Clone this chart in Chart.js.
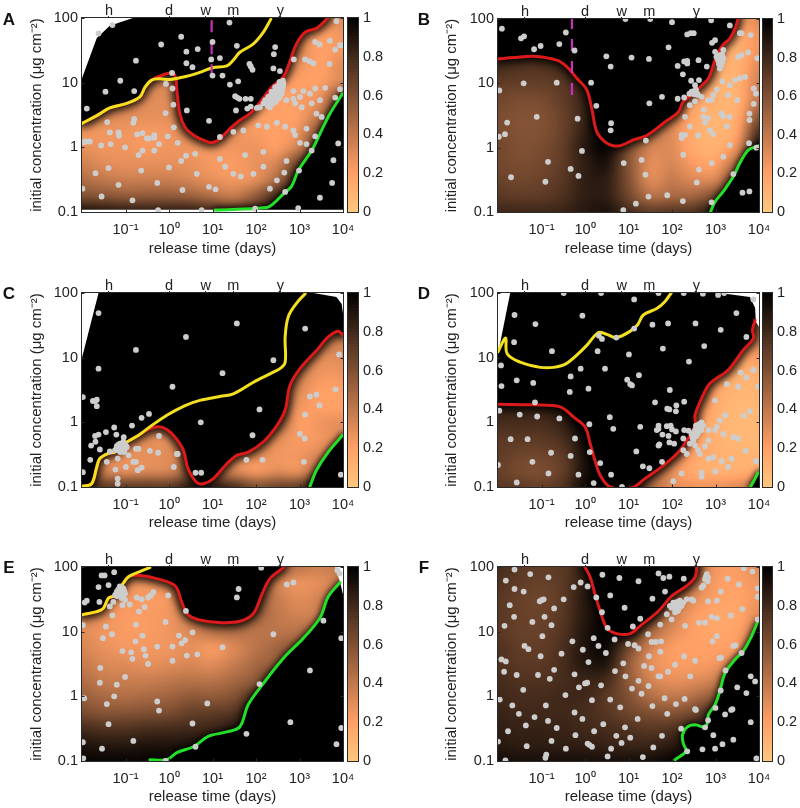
<!DOCTYPE html>
<html><head><meta charset="utf-8">
<style>
html,body{margin:0;padding:0;background:#fff;width:800px;height:808px;overflow:hidden}
canvas{position:absolute}
</style>
<script src="https://cdn.jsdelivr.net/npm/chart.js@4"></script>
</head><body>
<script>
// All curve / point values below are log10(release time, days), log10(initial concentration, ug cm-2)
const timeTicks=[0.1,1,10,100,1000,10000];
const timeTickLabels=['10⁻¹','10⁰','10¹','10²','10³','10⁴'];
const concTicks=[0.1,1,10,100];
const concTickLabels=['0.1','1','10','100'];
const topTicks=[1/24,1,7,30,365];
const topTickLabels=['h','d','w','m','y'];
const barTicks=[0,0.2,0.4,0.6,0.8,1];
const barLevels=Array.from({length:64},(_,i)=>(i+0.5)/64);

const pointsA=[[-1.62,1.76],[-1.3,1.89],[.28,1.71],[1.39,1.93],[-.18,1.59],[.4,1.48],[.66,1.52],[1,1.63],[1.56,1.57],[2.44,1.55],[2.41,1.44],[.4,1.3],[.54,1.24],[.97,1.36],[1.17,1.38],[1.85,1.29],[1.88,1.25],[1.92,1.2],[2.4,1.22],[2.55,1.18],[-.76,1.34],[.07,1.15],[1,1.11],[1.23,1.11],[-1.12,1.03],[-1.46,.86],[-.8,.87],[-.07,.98],[.08,.91],[1.4,.97],[1.59,1.02],[-1.89,.6],[-.8,.44],[-.82,.38],[-.08,.53],[.1,.66],[.41,.57],[.92,.41],[1.52,.79],[1.57,.77],[1.62,.75],[1.76,.75],[1.88,.75],[1.54,.57],[1.8,.6],[1.88,.63],[3.93,.9],[3.82,.77],[3.36,1.63],[3.46,1.59],[3.7,1.65],[3.82,1.51],[3.93,1.58],[4,1.58],[3.85,1.95],[3.13,1.36],[3.23,1.33],[3.32,1.3],[3.69,1.29],[2.87,1.36],
[-1.42,.39],[-1.36,.23],[-1.16,.23],[-1.15,.18],[-.73,.2],[-.61,.22],[-.51,.14],[-.46,.14],[-.34,.19],[-.34,.15],[-.03,.17],[-1.96,.08],[-1.91,.09],[-1.82,.09],[-1.56,.03],[-1.34,.05],[-1.01,0],[-.7,-.12],[-.61,-.05],[-.34,-.05],[-.23,.05],[.11,.31],[.2,.07],[.39,-.13],[.6,-.1],[.28,-.21],[0,-.31],[-1.69,-.4],[-1.39,-.32],[-.64,-.36],[-.27,-.55],[-1.16,-.58],[-1.99,-.64],[-1.55,-.76],[-.84,-.82],[-.25,-.97],[.31,-.66],[.75,-.97],[.92,-.61],[1.07,-.65],[.64,-.41],[1.17,-.18],[1.29,-.3],[1.48,-.41],[1.94,-.41],[1.65,-.45],[2.32,-.64],[2.48,-.51],[2.65,-.39],[2.7,-.21],[2.67,-.69],[2.97,-.94],[2.99,-.36],[2.17,-.3],[1.17,.16],[1.48,.24],[1.71,.26],[2.05,.34],[2.25,.32],[2.48,.38],[2.67,.32],[2.86,.26],[2.9,.19],[3.16,.29],[3.36,.17],[3.01,.07],[3.16,.05],[3.28,-.05],[3.51,.47],[3.39,.52],[3.89,.06],[3.78,-.2],[3.75,-.55],[3.47,-.78],[1.98,-.95],[1.75,-.12],[2.17,-.07],
[2.21,.73],[2.28,.68],[2.36,.75],[2.44,.8],[2.51,.86],[2.59,.93],[2.63,.98],[2.54,1.01],[2.44,.93],[2.36,.86],[2.28,.78],[2.17,.68],[2.09,.62],[2.02,.61],[2.51,.75],[2.4,.7],[2.32,.62],[2.59,.83],[2.48,.88],[2.55,.9],[2.6,1],[2.48,.78],[2.36,.66],
[2.86,.87],[3.01,.78],[3.09,.87],[3.36,.91],[3.59,.92],[3.24,.83],[2.86,.75],[2.7,.73],[2.9,.68],[3.05,.62],[3.28,.68],[3.47,.73],
[2.25,.72],[2.3,.75],[2.33,.7],[2.38,.8],[2.42,.74],[2.46,.83],[2.5,.8],[2.53,.92],[2.56,.85],[2.6,.88],[2.62,.93],[2.57,.97],[2.5,.95],[2.42,.87],[2.33,.8],[2.27,.64],[2.45,.7],[2.4,.78],[2.55,.78],[2.62,1.03]];
const pointsB=[[-1.91,1.85],[-1.47,1.7],[-1.4,1.73],[-1.17,1.53],[-1.02,1.58],[-.59,1.61],[-.44,1.79],[-.24,1.51],[.49,1.42],[.59,1.26],[1.07,1.4],[1.47,1.38],[.93,2],[1.5,2],[2,1.95],[2.9,1.98],[3.33,1.9],[1.92,1.56],[2.35,1.76],[2.43,1.78],[2.5,1.78],[2.92,1.63],[2.99,1.67],[2.13,1.27],[2.28,1.34],[2.35,1.35],[2.35,1.31],[2.61,1.36],[2.8,1.26],[2.25,1.14],[2.44,1.04],[2.62,1.05],[-1.41,1],[-.65,1.01],[-1.97,.89],[.14,1.01],[.26,.65],[-.17,.45],[-1.11,.48],[-1.79,.39],[-1.98,.17],[-1.84,.21],[.6,.38],[.59,.27],[1.48,.69],[1.77,.79],[2.13,.76],[2.28,.78],[-.07,-.05],[-.85,-.22],[-1.7,-.46],[-.91,-.53],[-.33,-.33],[-.15,-.44],[.89,-.24],[1.4,.11],[1.3,-.19],[1.39,-.42],[1.46,-.76],[1.17,-.87],[.88,-.97],[1.89,-.74],[2.25,-.83],[2.26,-.11],[2.91,-.85],[2.91,-.24],[2.62,-.34],[2.57,-.54],[3.41,-.41],[3.62,-.7],[3.78,-.68],[3.77,.07],[3.94,0],[3.33,.04],[3.18,-.14],[3.78,.53],[3.78,.43],[3.88,.92],[3.93,.84],[3.88,.68],[3.56,1.78],[3.6,1.78],[3.81,1.75],[3.75,1.48],[3.96,1.39],[3.52,1.41],[3.6,1.44],
[2.99,1.49],[3.1,1.44],[3.18,1.52],[3.06,1.36],[3.14,1.31],[3.1,1.23],[3.18,1.39],[3.02,1.41],[2.53,.97],[2.55,.9],[2.47,.84],[2.4,.84],[2.6,.82],[2.68,.79],
[2.3,.48],[2.41,.66],[2.53,.72],[2.73,.59],[2.72,.48],[2.83,.74],[2.95,.82],[2.91,.74],[3.03,.9],[3.16,1.03],[3.45,1.05],[3.56,1.08],[3.68,1.1],[3.33,.97],[3.29,.82],[3.5,.74],[3.14,.53],[3.18,.49],[3.33,.48],[3.26,.33],[2.83,.46],[2.76,.39],[2.41,.33],[2.22,.2],[2.3,.2],[2.22,.15],[2.6,.19],[2.87,.27],[2.95,.21],
[3.05,1.42],[3.12,1.4],[3.15,1.45],[3.08,1.3],[3.13,1.27],[3.12,1.35],[3.16,1.34],[2.5,.88],[2.45,.87],[2.52,.83],[2.57,.85]];
const pointsC=[[-1.62,1.69],[-.76,1.12],[-1.62,.83],[.39,1.32],[1.56,1.53],[3.13,1.45],[2.4,.96],[1.23,.76],[3.91,1.05],[.08,.55],[-1.98,.39],[-1.75,.33],[-1.7,.33],[-1.66,.35],[-1.66,.25],[-.63,.07],[-.46,.13],[-.85,-.05],[-1.26,-.08],[-1.45,-.15],[-1.62,-.19],[-1.7,-.21],[-1.21,-.19],[-1.04,-.23],[-1.79,-.36],[-1.69,-.3],[-1.59,-.42],[-1.36,-.45],[-1.81,-.58],[-1.43,-.61],[-1.98,-.77],[.73,0],[2.08,.2],[1.92,-.2],[-.23,-.21],[3.83,.51],[3.24,.4],[3.39,.43],[3.46,.26],[3.13,.12],[3.01,-.18],[3.12,-.25],[3.1,-.61],[3.95,-.81],[1.78,-.58],[2.15,-.58],[.18,-.49],[.2,-.49],[.11,-.69],[.61,-.78],[.74,-.78],[-.44,-.44],[-.25,-.47],[-.76,-.41],[-.7,-.41],[-.82,-.61],[-.76,-.61],[-.99,-.69],[-1.23,-.73],[-.72,-.74],[-.63,-.7],[-1.18,-.87],[-1.18,-.95],[-1.18,-.56],[-.93,-.51],
[-1.09,-.38],[-1.16,-.41],[-1.01,-.41],[-1.13,-.33],[-1.05,-.3],[-1.2,-.37],[-1.11,-.44],[-.97,-.38],[-1.03,-.46],[-1.24,-.43],
[-1.1,-.4],[-1.05,-.36],[-1.15,-.37],[-1.08,-.33],[-1.12,-.46],[-1,-.35],[-1.2,-.41],[-1.06,-.42],[-1.14,-.44],[-1.17,-.35]];
const pointsD=[[-1.62,1.66],[-1.14,1.52],[-.06,1.65],[1.13,1.9],[1.55,1.51],[1.91,1.53],[2.54,1.53],[3.48,1.69],[3.87,1.9],[-.49,2],[.37,2],[1.69,2],[2.27,2],[2.71,1.99],[3.06,1.97],[3.2,2],[3.12,1.43],[3.71,1.32],[2.74,1.18],[1.79,1.14],[2.39,.94],[-1.63,1.24],[-.76,1.1],[-1.93,.88],[-1.57,.65],[-1.92,.56],[-1.19,.61],[-.33,.71],[-.1,.83],[-.35,.47],[.08,.52],[.29,1.1],[.32,1.34],[.39,1.29],[.72,1.31],[1.13,1.45],[1.01,1.05],[.46,.83],[.97,.66],[1.04,.59],[1.08,.57],[1.24,.73],[1.95,.5],[1.61,.31],[1.89,.21],[1.94,.2],[2.1,.26],[2.09,.17],[2.28,.32],[-1.97,.18],[-1.15,.31],[-1.5,.12],[-1.1,.09],[-.59,.06],[.57,.08],[.65,-.1],[.1,-.03],[1.27,-.07],[-1.71,-.26],[-1.32,-.26],[-.23,-.25],[-.78,-.47],[-.33,-.52],[.11,-.46],[-1.21,-.61],[-2,-.66],[-.84,-.79],[-.15,-.81],[.35,-.63],[-1.57,-.93],[.2,-.94],[.6,-.81],[.85,-1],[1.18,-.45],[1.33,-.68],[1.48,-.71],[1.77,-.61],
[1.69,-.05],[1.65,-.12],[1.69,-.1],[1.88,-.06],[1.97,-.05],[2,-.11],[2.09,-.14],[2.28,-.12],[2.38,-.13],[1.78,-.19],[1.92,-.21],[1.94,-.31],[2.05,-.33],[1.69,-.36],[1.71,-.34],
[2.68,0],[2.72,-.05],[2.6,-.07],[2.53,-.12],[2.64,-.12],[2.45,-.18],[2.57,-.2],[2.68,-.12],[2.49,-.28],[2.41,-.33],[2.53,-.36],[2.26,-.43],[2.34,-.49],[2.6,-.43],
[2.84,-.12],[2.99,-.12],[2.84,-.28],[3.1,.03],[3.22,.11],[3.03,-.07],[3.18,-.18],[3.41,-.23],[3.52,-.25],[3.65,.1],[3.79,.17],[3.98,.55],[3.52,.55],[3.26,.59],[3.58,.77],[3.87,.81],[3.71,.69],[2.99,.34],[2.64,-.49],[2.84,-.56],[2.95,-.54],[3.14,-.6],[3.37,-.56],[3.29,-.69],[3,-.76],[2.68,-.78],[2.68,-.84],[2.22,-.79],[2.03,-.91],[3.69,-.44],[3.93,-.6],[2.76,-.37],[2.26,-.25],
[2.55,-.05],[2.62,-.03],[2.66,-.08],[2.58,-.1],[2.5,-.16],[2.6,-.16],[2.54,-.22],[2.47,-.24]];
const pointsE=[[-1.26,1.92],[-1.55,1.87],[-1.48,1.87],[-1.62,1.69],[-1.39,1.72],[-1.6,1.46],[-1.94,1.45],[-1.89,1.48],[2.12,1.99],[1.6,1.66],[1.56,1.53],[2.71,1.73],[2.86,1.76],[.39,1.32],[-.02,1.56],[-1.36,1.39],[-1.3,1.25],[-1.45,1.08],[-1.31,.96],[-1.52,.9],[-1.98,1.1],[-.76,1.11],[-.69,1.31],[-.56,1.38],[-.74,1.53],[-.63,1.5],[-.48,1.53],[-.42,1.56],[-.36,1.61],[-1.07,1.41],[-.9,1.42],[-.61,.94],[-.77,.85],[-.08,1.15],[.23,.94],[.54,.99],[.37,.87],[.29,.82],[-.27,.77],[.08,.77],[-.58,.73],[-1.07,.7],[-.87,.68],[-.54,.63],[-.84,.58],[.08,.55],[-.48,.5],[.41,.63],[.65,.65],[1.23,.76],[2.4,.96],[-1.58,.44],[-1.59,.21],[-1.01,.3],[-1.2,.18],[-1.26,0],[-1.95,-.03],[-1.43,-.12],[-.27,-.08],[-.23,-.22],[.88,-.11],[2.08,.19],[3.24,.4],[3.55,1.17],[-1.39,-.43],[.54,-.42],[2.79,-.4],[1.78,-.58],[-.82,-.69],[.61,-.78],[-1.54,-.81],[-1.98,-.71],[-1.97,-.96],[-.08,-1],[3.96,-.49],[3.85,-.74],[3.96,.9],
[-1.13,1.64],[-1.2,1.62],[-1.05,1.67],[-1.01,1.59],[-1.16,1.57],[-1.24,1.57],[-1.09,1.52],[-1.01,1.49],[-1.28,1.46],[3.87,1.95],[3.92,1.9],
[-1.12,1.6],[-1.17,1.65],[-1.08,1.62],[-1.1,1.55],[-1.15,1.6],[-1.03,1.63],[-1.2,1.55],[-1.08,1.68],[-1.05,1.55],[-1.13,1.7]];
const pointsF=[[-1.62,1.96],[-1.26,1.89],[-.84,1.84],[-1.82,1.79],[-1.62,1.66],[-1.41,1.62],[-1.73,1.41],[-1.63,1.23],[-1.85,1.09],[-1.21,1.15],[-.93,1.23],[-1.04,1.47],[-.99,1.49],[-.95,1.5],[-.71,1.36],[-.49,1.5],[-.77,1.1],[-.98,.93],[-1.39,.78],[-1.3,.73],[-1.02,.62],[-.54,.66],[-.29,.85],[-.05,.72],[-1.92,.57],[-1.82,.54],[-1.86,.38],[-1.57,.33],[-1.08,.33],[-.71,.41],[-.81,.27],[-.24,.34],[.08,.53],[0,.2],[.05,.21],[-.14,.14],[.37,.17],[.69,.39],[.88,.51],[.93,.31],[-1.96,-.05],[-1.42,.1],[-.45,.02],[.16,-.06],[.58,-.05],[.81,-.17],[-1.67,-.14],[-1.52,-.27],[-.9,-.14],[-1.16,-.32],[-1.36,-.45],[-.85,-.38],[-.24,-.25],[-.06,-.35],[-.65,-.49],[.42,-.43],[.21,-.54],[-.22,-.6],[.92,-.48],[.72,-.61],[.84,-.72],[1.04,-.64],[-1.77,-.54],[-.77,-.69],[-1.34,-.77],[-.44,-.81],[.06,-.73],[.1,-.75],[.16,-.78],[.6,-.81],[.52,-.93],[1.33,-.94],[1.57,-.79],[1.77,-.61],[1.21,-.35],[-.89,-.9],[-.91,-.95],[-2,-.7],[-1.83,-.99],[3.94,-.96],
[-.26,1.69],[-.1,1.76],[.06,1.7],[.4,1.88],[.79,1.83],[1.23,1.78],[1.69,1.9],[1.8,1.83],[1.94,1.85],[2.27,1.82],[.26,1.53],[.58,1.56],[.91,1.37],[.39,1.3],[1.55,1.51],[1.84,1.62],[1.27,1.2],[1.1,1.08],[.52,1.06],[.2,.9],[.31,.78],[.48,.67],[.68,.88],[.99,.81],[1.14,.79],[1.23,.74],[1.45,.96],[1.53,.84],[1.63,.84],[1.75,.85],[1.47,.62],[1.73,.69],[1.36,.47],[1.53,.44],[2.07,.49],[2.28,.62],[2.53,.55],[1.91,.38],[1.69,.31],[1.73,.31],[2.42,.31],[1.23,.24],[1.08,.12],[1.3,.04],[1.46,.16],[1.55,-.15],[1.83,-.03],[2.09,-.12],[2.29,-.04],[1.89,-.27],[2.21,-.5],[2.53,-.2],[2.55,-.21],[2.35,-.85],[2.7,-.82],[3,-.18],[2.83,-.37],[2.76,-.48],[2.95,-.6],[3.16,-.74],[2.99,-.81],[3.41,-.67],[3.22,-.28],[3.36,-.21],[3.39,-.2],[3.81,-.4],[3.71,.05],[3.5,.14],[3.81,.31],[3.91,.23],[3.12,.09],[3.23,.4],[3.09,.59],[3.13,.6],[3.6,.67],[3.41,.78],[3.46,.79],[3.03,.93],[2.93,.85],[3.35,1.25],[3.03,1.21],[2.91,1.23],[2.76,1.14],[2.62,1.14],[3.62,1.35],[3.54,1.73],[3.65,1.98],[3.85,1.93],[3.97,1.67],[3.97,1.54],[3.97,1.19],[3.28,1.82],[3.12,1.62],[3.03,1.48],[2.83,1.47],[2.45,1.5],
[2.8,1.89],[2.83,1.84],[2.76,1.81],[2.68,1.68],[2.72,1.71],[2.11,1.42],[2.03,1.45],[2.18,1.48],[2.22,1.4],[2.07,1.37],[2.15,1.35],[2.26,1.45],[1.99,1.37],[1.95,1.4],[2.07,1.3],[1.88,1.27],[1.99,1.19],[1.73,1.11],[2.34,1.5],[2.3,1.09],[2.49,1.48],
[2.1,1.4],[2.15,1.42],[2.05,1.42],[2.12,1.46],[2.17,1.38],[2.08,1.35],[2.2,1.44],[2.02,1.4],[2.13,1.32],[2.78,1.85],[2.82,1.78]];

const yellowA=[[-2,.37],[-1.66,.49],[-1.36,.61],[-.97,.68],[-.67,.78],[-.55,.93],[-.4,1.04],[-.21,1.06],[.02,1.05],[.41,1.1],[.71,1.16],[1,1.23],[1.33,1.26],[1.48,1.35],[1.63,1.47],[1.94,1.6],[2.17,1.78],[2.34,1.98]];
const redA=[[-2,.37],[-1.66,.49],[-1.36,.61],[-.97,.68],[-.67,.78],[-.55,.93],[-.4,1.04],[-.21,1.1],[.02,1.15],[.14,1.11],[.18,.88],[.25,.52],[.37,.31],[.56,.19],[.79,.11],[.98,.07],[1.17,.13],[1.4,.29],[1.63,.42],[1.86,.52],[2.13,.73],[2.36,.93],[2.63,1.09],[2.79,1.35],[2.93,1.6],[3.13,1.78],[3.39,1.84],[3.59,1.96],[3.66,2.02]];
const greenA=[[1.06,-.97],[2.25,-.93],[2.4,-.87],[2.63,-.72],[2.82,-.6],[2.97,-.36],[3.28,-.05],[3.47,.21],[3.7,.52],[3.99,.83]];
const dashA=[[.98,1.1],[.98,2]];
const redB=[[-2,1.38],[-1.64,1.4],[-1.18,1.42],[-.65,1.36],[-.42,1.26],[-.19,1.08],[.04,.9],[.16,.59],[.27,.25],[.46,.09],[.65,.03],[.85,.04],[1.11,.12],[1.42,.19],[1.8,.38],[2.15,.56],[2.26,.72],[2.49,.84],[2.64,.94],[2.84,1.08],[2.99,1.36],[3.14,1.57],[3.33,1.7],[3.45,1.85],[3.52,2.01]];
const greenB=[[2.89,-.99],[2.99,-.84],[3.18,-.68],[3.41,-.45],[3.56,-.24],[3.75,-.04],[3.94,.02],[4,.03]];
const dashB=[[-.3,.82],[-.3,2]];
const yellowC=[[-2,-.99],[-1.78,-.95],[-1.66,-.69],[-1.59,-.56],[-1.39,-.48],[-1.24,-.46],[-1.09,-.36],[-.93,-.29],[-.7,-.2],[-.44,-.07],[-.05,.11],[.37,.26],[.71,.34],[1.17,.4],[1.48,.44],[1.94,.62],[2.32,.75],[2.55,.83],[2.67,.93],[2.67,1.32],[2.74,1.63],[2.93,1.84],[3.13,1.99]];
const redC=[[-2,-.99],[-1.78,-.95],[-1.66,-.69],[-1.59,-.56],[-1.39,-.48],[-1.24,-.46],[-1.09,-.36],[-.93,-.29],[-.7,-.2],[-.51,-.12],[-.25,-.07],[-.05,-.11],[.14,-.23],[.33,-.43],[.44,-.72],[.64,-.93],[.79,-.95],[1.02,-.87],[1.33,-.64],[1.56,-.51],[1.82,-.46],[2.17,-.3],[2.48,-.05],[2.67,.19],[2.78,.57],[3.01,.83],[3.39,1.11],[3.66,1.32],[3.89,1.41],[4,1.35]];
const greenC=[[3.24,-.99],[3.39,-.74],[3.66,-.46],[3.99,-.2]];
const yellowD=[[-2,1.09],[-1.87,1.27],[-1.82,1.3],[-1.79,1.06],[-1.49,.93],[-1.03,.85],[-.72,.85],[-.45,.9],[-.19,1.04],[.04,1.19],[.31,1.39],[.5,1.36],[.72,1.31],[1.04,1.41],[1.21,1.51],[1.34,1.66],[1.65,1.76],[1.84,1.87],[1.98,2]];
const redD=[[-2,.28],[-1.18,.27],[-.57,.24],[-.26,.08],[0,-.07],[.12,-.33],[.23,-.59],[.35,-.82],[.58,-1],[1.08,-1.01],[1.38,-.87],[1.8,-.67],[2.15,-.46],[2.34,-.28],[2.53,-.05],[2.53,.11],[2.68,.37],[2.87,.6],[3.29,.81],[3.64,1.12],[3.87,1.3],[3.85,1.43],[3.91,1.58]];
const greenD=[[3.81,-.99],[3.91,-.87],[3.98,-.78]];
const yellowE=[[-2,1.26],[-1.66,1.31],[-1.51,1.36],[-1.39,1.52],[-1.24,1.56],[-1.05,1.75],[-.93,1.85],[-.67,1.93],[-.44,1.99]];
const redE=[[-2,1.26],[-1.66,1.31],[-1.51,1.36],[-1.39,1.52],[-1.24,1.56],[-1.05,1.75],[-.93,1.85],[-.67,1.87],[-.28,1.82],[.14,1.71],[.29,1.46],[.44,1.26],[.71,1.18],[1.17,1.14],[1.63,1.16],[1.94,1.28],[2.13,1.57],[2.32,1.82],[2.63,1.99]];
const greenE=[[-.44,-.98],[-.05,-.98],[.18,-.87],[.56,-.78],[.9,-.62],[1.33,-.55],[1.63,-.47],[1.82,-.13],[2.17,.2],[2.63,.59],[3.09,.9],[3.47,1.21],[3.66,1.54],[3.93,1.76]];
const redF=[[0,2],[.12,1.84],[.23,1.58],[.35,1.32],[.5,1.06],[.73,.97],[1.04,.97],[1.27,1.09],[1.69,1.32],[1.99,1.55],[2.34,1.71],[2.53,1.84],[2.57,1.99]];
const greenF=[[2.07,-.98],[2.32,-.85],[2.26,-.73],[2.24,-.6],[2.34,-.48],[2.53,-.44],[2.76,-.48],[2.82,-.39],[2.84,-.28],[2.99,-.13],[3.1,.08],[3.22,.36],[3.45,.57],[3.64,.7],[3.83,.93],[3.96,1.14]];

// white "no data" regions of each panel (log10 values)
const masksA=[[[-2,1.07],[-1.66,1.69],[-1.36,1.88],[-.83,2],[-2,2]],[[-2,-1],[4,-1],[4,-.965],[-2,-.965]]];
const masksC=[[[-2,1],[-1.62,2],[-2,2]],[[3.32,2],[3.85,1.94],[3.97,1.83],[4,1.68],[4,2]]];
const masksD=[[[-2,1.06],[-1.72,2],[-2,2]],[[3.1,2],[3.79,1.94],[3.91,1.77],[3.93,1.55],[4,1.48],[4,2]]];
const masksE=[[[3.82,2],[3.93,1.77],[4,1.57],[4,2]]];

// Colour fraction on a grid: rows log10(conc) 2 ... -1 step .25, columns log10(time) -2 ... 4 step .5
const heatA=[
[.5,.5,.5,.5,.5,.5,.5,.5,.5,.5,.3,.3,.3],
[.5,.5,.5,.5,.5,.5,.5,.5,.5,.5,.3,.2,.25],
[.5,.5,.5,.5,.5,.5,.5,.5,.5,.4,.3,.2,.25],
[.5,.5,.5,.5,.5,.5,.5,.5,.4,.3,.25,.2,.3],
[.4,.4,.4,.35,.35,.4,.4,.3,.25,.22,.2,.22,.35],
[.4,.35,.32,.3,.3,.35,.35,.28,.2,.2,.22,.3,.75],
[.35,.32,.3,.28,.28,.3,.3,.25,.2,.2,.22,.45,1],
[.25,.25,.25,.23,.25,.3,.25,.25,.22,.2,.28,.65,1],
[.28,.25,.25,.23,.25,.25,.23,.25,.25,.22,.4,.85,1],
[.35,.3,.28,.28,.28,.27,.23,.22,.27,.35,.7,1,1],
[.45,.4,.37,.37,.37,.33,.28,.25,.3,.5,.9,1,1],
[.6,.58,.55,.55,.55,.52,.45,.4,.55,.8,1,1,1],
[.9,.88,.85,.85,.85,.85,.8,.75,.8,.95,1,1,1]];
const heatB=[
[.8,.8,.8,.8,.85,.9,.9,.9,.9,.6,.3,.2,.3],
[.8,.8,.8,.8,.85,.9,.9,.9,.9,.5,.25,.15,.25],
[.8,.8,.8,.8,.85,.9,.9,.9,.8,.4,.2,.12,.25],
[.78,.75,.75,.78,.85,.9,.9,.8,.6,.3,.15,.12,.3],
[.7,.69,.69,.73,.82,.9,.9,.7,.5,.25,.12,.12,.35],
[.65,.62,.63,.7,.82,.9,.85,.6,.4,.2,.12,.12,.4],
[.62,.59,.6,.68,.82,.92,.75,.5,.35,.16,.1,.15,.55],
[.62,.59,.6,.68,.85,.95,.65,.42,.3,.14,.1,.2,.75],
[.64,.6,.62,.7,.88,.95,.6,.35,.3,.15,.12,.3,.95],
[.64,.62,.64,.71,.85,.9,.58,.3,.32,.22,.2,.5,1],
[.67,.65,.67,.73,.85,.85,.6,.32,.38,.32,.35,.75,1],
[.72,.7,.71,.76,.85,.85,.65,.45,.48,.5,.65,1,1],
[.8,.8,.8,.82,.88,.9,.78,.7,.72,.75,.9,1,1]];
const heatC=[
[.4,.4,.4,.4,.4,.4,.4,.4,.4,.4,.4,.4,.4],
[.4,.4,.4,.4,.4,.4,.4,.4,.4,.4,.4,.4,.4],
[.4,.4,.4,.4,.4,.4,.4,.4,.4,.4,.4,.4,.4],
[.4,.4,.4,.4,.4,.4,.4,.4,.4,.4,.4,.4,.35],
[.4,.4,.4,.4,.4,.4,.4,.4,.4,.4,.4,.3,.3],
[.4,.4,.4,.4,.4,.4,.4,.4,.4,.4,.35,.25,.25],
[.4,.4,.4,.4,.4,.4,.4,.4,.4,.4,.3,.2,.2],
[.4,.4,.4,.4,.4,.4,.4,.4,.4,.4,.25,.2,.2],
[.4,.4,.4,.4,.4,.4,.4,.4,.4,.45,.22,.25,.28],
[.4,.4,.3,.3,.3,.4,.4,.4,.4,.3,.22,.25,.35],
[.4,.3,.28,.28,.3,.4,.4,.3,.3,.25,.25,.35,.6],
[.45,.35,.3,.32,.35,.5,.4,.33,.25,.3,.3,.6,1],
[.75,.7,.7,.7,.7,.85,.85,.75,.6,.65,.7,1,1]];
const heatD=[
[.9,.9,.9,.9,.9,.9,.9,.9,.9,.9,.9,.5,.5],
[.9,.9,.9,.9,.9,.9,.9,.9,.9,.9,.9,.45,.45],
[.9,.9,.9,.9,.9,.9,.9,.9,.9,.9,.9,.4,.4],
[.9,.9,.9,.9,.9,.9,.9,.9,.9,.9,.9,.3,.3],
[.9,.9,.9,.9,.9,.9,.9,.9,.9,.9,.6,.2,.2],
[.9,.9,.9,.9,.9,.9,.9,.9,.9,.9,.3,.12,.12],
[.9,.9,.9,.9,.9,.9,.9,.9,.9,.6,.2,.1,.1],
[.85,.85,.85,.9,.9,.9,.9,.9,.9,.4,.15,.08,.08],
[.78,.78,.78,.85,1,1,1,1,1,.3,.12,.08,.08],
[.72,.72,.72,.78,.95,1,1,1,.8,.25,.12,.08,.08],
[.7,.66,.66,.72,.92,1,1,.9,.5,.2,.12,.1,.1],
[.68,.63,.62,.7,.92,1,1,.6,.3,.15,.12,.12,.15],
[.72,.7,.68,.75,.95,1,1,.5,.3,.25,.25,.3,.4]];
const heatE=[
[.4,.4,.35,.35,.35,.35,.4,.5,.6,.45,.4,.35,.4],
[.4,.35,.28,.25,.3,.4,.6,.7,.55,.35,.27,.3,.4],
[.4,.3,.25,.22,.25,.4,.6,.7,.55,.38,.3,.35,.45],
[.35,.28,.22,.22,.25,.38,.55,.6,.5,.4,.35,.4,.55],
[.3,.25,.22,.22,.25,.32,.42,.45,.42,.42,.45,.6,1],
[.33,.27,.24,.24,.25,.28,.24,.32,.42,.5,.65,1,1],
[.38,.32,.3,.28,.3,.32,.3,.38,.48,.6,.9,1,1],
[.45,.38,.37,.37,.4,.42,.42,.48,.58,.85,1,1,1],
[.52,.47,.45,.47,.5,.55,.55,.6,.8,1,1,1,1],
[.62,.58,.58,.6,.62,.68,.7,.75,1,1,1,1,1],
[.78,.75,.75,.77,.78,.8,.82,.9,1,1,1,1,1],
[.9,.88,.88,.9,.9,.92,.95,1,1,1,1,1,1],
[.97,.97,.97,.97,.97,1,1,1,1,1,1,1,1]];
const heatF=[
[.78,.72,.7,.72,.85,.9,.9,.85,.7,.5,.25,.22,.3],
[.75,.7,.68,.72,.85,.9,.9,.85,.7,.4,.22,.2,.25],
[.72,.68,.66,.72,.88,.92,.9,.85,.55,.3,.2,.18,.25],
[.72,.68,.67,.73,.88,.95,.9,.7,.4,.22,.17,.17,.3],
[.72,.68,.68,.75,.9,.97,.8,.5,.3,.2,.17,.2,.4],
[.75,.7,.7,.77,.9,.95,.65,.35,.22,.2,.2,.25,.6],
[.75,.72,.72,.78,.88,.88,.55,.3,.22,.22,.25,.4,.85],
[.78,.75,.75,.78,.82,.78,.55,.35,.28,.3,.38,.7,1],
[.8,.78,.78,.8,.8,.72,.6,.45,.4,.45,.6,1,1],
[.82,.8,.8,.8,.78,.73,.65,.6,.58,.65,.85,1,1],
[.85,.83,.83,.82,.8,.78,.75,.72,.75,.85,1,1,1],
[.88,.86,.86,.85,.85,.83,.82,.82,.87,.95,1,1,1],
[.93,.92,.92,.92,.92,.92,.92,.93,.97,1,1,1,1]];

const panels=[
 {name:'A',points:pointsA,red:redA,yellow:yellowA,green:greenA,dash:dashA,heat:heatA,masks:masksA,col:0,row:0,top:18,bottom:212},
 {name:'B',points:pointsB,red:redB,yellow:null,green:greenB,dash:dashB,heat:heatB,masks:[],col:1,row:0,top:19,bottom:212},
 {name:'C',points:pointsC,red:redC,yellow:yellowC,green:greenC,dash:null,heat:heatC,masks:masksC,col:0,row:1,top:19,bottom:213},
 {name:'D',points:pointsD,red:redD,yellow:yellowD,green:greenD,dash:null,heat:heatD,masks:masksD,col:1,row:1,top:19,bottom:213},
 {name:'E',points:pointsE,red:redE,yellow:yellowE,green:greenE,dash:null,heat:heatE,masks:masksE,col:0,row:2,top:19,bottom:213},
 {name:'F',points:pointsF,red:redF,yellow:null,green:greenF,dash:null,heat:heatF,masks:[],col:1,row:2,top:19,bottom:213}
];
const columns=[
 {x:0,plotLeft:82,plotRight:343,barLeft:348,barRight:358,titlePad:28,letterX:9},
 {x:400,plotLeft:98,plotRight:359,barLeft:363,barRight:372,titlePad:43,letterX:24}
];
const rowTops=[0,274,548];
const cellH=260, cellW=400;
const ink='#222', frame='#2a2a2a', font='"Liberation Sans",Arial,sans-serif';

function copper(v){ // reversed copper colour map
  const t=1-Math.max(0,Math.min(1,v));
  return [Math.min(1,1.25*t)*255, .7812*t*255, .4975*t*255];
}
const cr=(a,b,c,d,t)=>.5*(2*b+(c-a)*t+(2*a-5*b+4*c-d)*t*t+(3*b-a-3*c+d)*t*t*t);
function sampleGrid(g,lx,ly){
  const fx=(lx+2)/.5, fy=(2-ly)/.25;
  const ix=Math.max(0,Math.min(11,Math.floor(fx))), iy=Math.max(0,Math.min(11,Math.floor(fy)));
  const tx=fx-ix, ty=fy-iy, rows=[];
  for(let j=-1;j<=2;j++){
    const r=g[Math.max(0,Math.min(12,iy+j))], at=k=>r[Math.max(0,Math.min(12,k))];
    rows.push(cr(at(ix-1),at(ix),at(ix+1),at(ix+2),tx));
  }
  return cr(rows[0],rows[1],rows[2],rows[3],ty);
}
const toXY=a=>a.map(([x,y])=>({x:10**x,y:10**y}));

const fieldPlugin={
  id:'field',
  beforeDatasetsDraw(chart){
    const p=chart.options.plugins.field, {ctx,chartArea:a}=chart, xs=chart.scales.x, ys=chart.scales.y;
    const w=Math.round(a.right-a.left), h=Math.round(a.bottom-a.top);
    const off=document.createElement('canvas'); off.width=w; off.height=h;
    const oc=off.getContext('2d'), img=oc.createImageData(w,h);
    for(let j=0;j<h;j++){
      const ly=Math.log10(ys.getValueForPixel(a.top+j+.5));
      for(let i=0;i<w;i++){
        const lx=Math.log10(xs.getValueForPixel(a.left+i+.5));
        const c=copper(sampleGrid(p.heat,lx,ly)), k=(j*w+i)*4;
        img.data[k]=c[0];img.data[k+1]=c[1];img.data[k+2]=c[2];img.data[k+3]=255;
      }
    }
    oc.putImageData(img,0,0);
    ctx.save();
    ctx.beginPath();ctx.rect(a.left,a.top,a.right-a.left,a.bottom-a.top);ctx.clip();
    ctx.drawImage(off,a.left,a.top);
    const metaOf=l=>chart.data.datasets.findIndex(d=>d.label===l);
    const region=(label,upper)=>{
      const i=metaOf(label); if(i<0) return null;
      const line=chart.getDatasetMeta(i).dataset, pts=chart.getDatasetMeta(i).data;
      const f=pts[0], l=pts[pts.length-1];
      return c=>{
        c.beginPath(); line.path(c);
        if(upper){c.lineTo(l.x,a.top-20);c.lineTo(f.x,a.top-20);}
        else{c.lineTo(a.right+20,l.y);c.lineTo(a.right+20,a.bottom+20);c.lineTo(f.x,a.bottom+20);}
        c.closePath();
      };
    };
    for(const [label,upper,blur,grow] of [['red',true,5,7],['green',false,3,3]]){
      const r=region(label,upper); if(!r) continue;
      ctx.save();
      ctx.filter=`blur(${blur}px)`;
      ctx.fillStyle=ctx.strokeStyle='#000';ctx.lineWidth=grow;ctx.lineJoin='round';
      r(ctx);ctx.fill();ctx.stroke();
      ctx.restore();
      ctx.fillStyle='#000';r(ctx);ctx.fill();
    }
    ctx.fillStyle='#fff';
    for(const m of p.masks){
      ctx.beginPath();
      m.forEach(([x,y],i)=>{
        const px=xs.getPixelForValue(10**x), py=ys.getPixelForValue(10**y);
        i?ctx.lineTo(px,py):ctx.moveTo(px,py);
      });
      ctx.closePath();ctx.fill();
    }
    ctx.restore();
  },
  afterDatasetsDraw(chart){
    const {ctx,chartArea:a}=chart, p=chart.options.plugins.field, xs=chart.scales.x, ys=chart.scales.y;
    ctx.save();
    ctx.strokeStyle=frame;ctx.lineWidth=1;
    ctx.strokeRect(a.left-.5,a.top-.5,a.right-a.left+1,a.bottom-a.top+1);
    ctx.beginPath();
    for(const v of timeTicks){const px=Math.round(xs.getPixelForValue(v))+.5;ctx.moveTo(px,a.bottom);ctx.lineTo(px,a.bottom-2.5);}
    for(const v of concTicks){const py=Math.round(ys.getPixelForValue(v))+.5;ctx.moveTo(a.left,py);ctx.lineTo(a.left+2.5,py);ctx.moveTo(a.right,py);ctx.lineTo(a.right-2.5,py);}
    ctx.stroke();
    ctx.fillStyle='#111';ctx.font='bold 17px '+font;ctx.textAlign='center';ctx.textBaseline='middle';
    ctx.fillText(p.letter,p.letterX,20);
    ctx.restore();
  }
};
const barFrame={
  id:'barFrame',
  afterDatasetsDraw(chart){
    const {ctx,chartArea:a}=chart;
    ctx.save();ctx.strokeStyle=frame;ctx.lineWidth=1;
    ctx.strokeRect(a.left-.5,a.top-.5,a.right-a.left+1,a.bottom-a.top+1);ctx.restore();
  }
};

function makeCanvas(col,row){
  const c=document.createElement('canvas');
  c.width=cellW;c.height=cellH;
  c.style.left=col.x+'px';c.style.top=rowTops[row]+'px';
  c.style.width=cellW+'px';c.style.height=cellH+'px';
  document.body.appendChild(c);
  return c.getContext('2d');
}
const labelFrom=(vals,labs)=>v=>{const i=vals.findIndex(t=>Math.abs(t-v)/t<1e-6);return i<0?'':labs[i];};
const setTicks=vals=>s=>{s.ticks=vals.map(v=>({value:v}));};
const tickFont={family:font,size:14.5};

for(const p of panels){
  const col=columns[p.col];
  const sets=[{label:'points',data:toXY(p.points),backgroundColor:'#cdcdcd',borderWidth:0,pointRadius:2.9,showLine:false}];
  const line=(label,data,color,extra)=>sets.push(Object.assign({label,data:toXY(data),borderColor:color,borderWidth:3,pointRadius:0,showLine:true,tension:.35,borderCapStyle:'round',borderJoinStyle:'round',fill:false},extra||{}));
  if(p.dash) line('dash',p.dash,'#c832b8',{borderDash:[12,10],borderWidth:2.2,tension:0,borderCapStyle:'butt'});
  if(p.yellow) line('yellow',p.yellow,'#f3e01e');
  line('green',p.green,'#22e02a');
  line('red',p.red,'#dd1a1a');
  new Chart(makeCanvas(col,p.row),{
    type:'scatter',
    data:{datasets:sets},
    options:{
      responsive:false,animation:false,events:[],
      layout:{padding:{left:0,top:0,bottom:0,right:cellW-col.plotRight}},
      plugins:{legend:{display:false},tooltip:{enabled:false},
        field:{heat:p.heat,masks:p.masks,letter:p.name,letterX:col.letterX}},
      scales:{
        x:{type:'logarithmic',position:'bottom',min:.01,max:1e4,bounds:'data',
          afterBuildTicks:setTicks(timeTicks),
          afterFit:s=>{s.height=cellH-p.bottom;},
          grid:{display:false,drawTicks:false},border:{display:false},
          ticks:{callback:labelFrom(timeTicks,timeTickLabels),color:ink,font:tickFont,padding:9,autoSkip:false,maxRotation:0,major:{enabled:false}},
          title:{display:true,text:'release time (days)',color:ink,font:{family:font,size:15},padding:{top:0,bottom:2}}},
        top:{type:'logarithmic',position:'top',min:.01,max:1e4,bounds:'data',
          afterBuildTicks:setTicks(topTicks),
          afterFit:s=>{s.height=p.top;},
          grid:{display:true,drawOnChartArea:false,tickLength:2,color:frame},border:{display:false},
          ticks:{callback:labelFrom(topTicks,topTickLabels),color:ink,font:tickFont,padding:-4,autoSkip:false,maxRotation:0,major:{enabled:false}}},
        y:{type:'logarithmic',position:'left',min:.1,max:100,bounds:'data',
          afterBuildTicks:setTicks(concTicks),
          afterFit:s=>{s.width=col.plotLeft;},
          grid:{display:false,drawTicks:false},border:{display:false},
          ticks:{callback:labelFrom(concTicks,concTickLabels),color:ink,font:tickFont,padding:4,autoSkip:false,major:{enabled:false}},
          title:{display:true,text:'initial concentration (μg cm⁻²)',color:ink,font:{family:font,size:15},padding:{top:col.titlePad,bottom:0}}}
      }
    },
    plugins:[fieldPlugin]
  });
  new Chart(makeCanvas(col,p.row),{
    type:'bar',
    data:{labels:[''],datasets:barLevels.map(l=>{const c=copper(l);return {data:[1/barLevels.length],backgroundColor:`rgb(${c.map(Math.round).join(',')})`,borderWidth:0,barPercentage:1,categoryPercentage:1};})},
    options:{
      responsive:false,animation:false,events:[],
      layout:{padding:{left:col.barLeft,top:p.top,bottom:cellH-p.bottom,right:0}},
      plugins:{legend:{display:false},tooltip:{enabled:false}},
      scales:{
        x:{stacked:true,display:false},
        y:{stacked:true,position:'right',min:0,max:1,
          afterBuildTicks:setTicks(barTicks),
          afterFit:s=>{s.width=cellW-col.barRight;},
          grid:{display:false,drawTicks:false},border:{display:false},
          ticks:{callback:v=>String(+v.toFixed(1)),color:ink,font:tickFont,padding:5}}
      }
    },
    plugins:[barFrame]
  });
}
</script>
</body></html>
